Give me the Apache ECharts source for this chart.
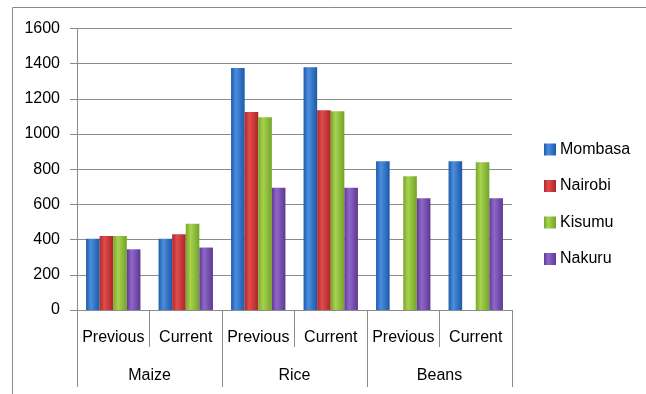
<!DOCTYPE html>
<html>
<head>
<meta charset="utf-8">
<script src="https://cdn.jsdelivr.net/npm/echarts@6/dist/echarts.min.js"></script>
<style>
  html, body { margin: 0; padding: 0; background: #fff; }
  #chart { width: 646px; height: 394px; }
</style>
</head>
<body>
<div id="chart"></div>
<script>
// Periods shown under each crop, and the crop groups below them
const periods = ['Previous', 'Current', 'Previous', 'Current', 'Previous', 'Current'];
const crops = ['Maize', 'Rice', 'Beans'];
const towns = ['Mombasa', 'Nairobi', 'Kisumu', 'Nakuru'];

// Prices per town, one value per crop/period column ('-' = no data)
const mombasa = [405, 405, 1375, 1380, 845, 845];
const nairobi = [420, 430, 1125, 1135, '-', '-'];
const kisumu  = [420, 490, 1095, 1130, 760, 840];
const nakuru  = [345, 355, 695, 695, 635, 635];

const yTicks = { min: 0, max: 1600, step: 200 };

const palette = [
  ['#1f5aa8', '#4a8ee0', '#1d58a6'],
  ['#b0282a', '#e04c4c', '#ad2527'],
  ['#76a82a', '#a8d250', '#72a427'],
  ['#603a96', '#9067c8', '#5d3893']
];

function barFill(c) {
  return new echarts.graphic.LinearGradient(0, 0, 1, 0, [
    { offset: 0, color: c[0] },
    { offset: 0.35, color: c[1] },
    { offset: 1, color: c[2] }
  ]);
}

const values = [mombasa, nairobi, kisumu, nakuru];
const font = '"Liberation Sans", Arial, sans-serif';
const gray = '#8a8a8a';

const chart = echarts.init(document.getElementById('chart'), null, { renderer: 'canvas' });

chart.setOption({
  animation: false,
  backgroundColor: '#fff',
  textStyle: { fontFamily: font },
  grid: { left: 77, right: 134, top: 28.5, bottom: 84 },
  legend: {
    orient: 'vertical',
    left: 539,
    top: 136,
    itemWidth: 12,
    itemHeight: 12,
    itemGap: 19.5,
    icon: 'rect',
    textStyle: { fontFamily: font, fontSize: 16, color: '#000', lineHeight: 17, padding: [0, 0, 0, -1] },
    data: towns
  },
  xAxis: [
    {
      type: 'category',
      data: periods,
      position: 'bottom',
      axisLine: { show: true, lineStyle: { color: gray, width: 1 } },
      axisTick: { show: true, length: 37, lineStyle: { color: gray } },
      axisLabel: { fontFamily: font, fontSize: 16, color: '#000', margin: 20, interval: 0 },
      splitLine: { show: false }
    },
    {
      type: 'category',
      data: crops,
      position: 'bottom',
      offset: 37,
      axisLine: { show: false },
      axisTick: { show: true, length: 40, lineStyle: { color: gray } },
      axisLabel: { fontFamily: font, fontSize: 16, color: '#000', margin: 21, interval: 0 },
      splitLine: { show: false }
    }
  ],
  yAxis: {
    type: 'value',
    min: yTicks.min,
    max: yTicks.max,
    interval: yTicks.step,
    axisLine: { show: true, lineStyle: { color: gray } },
    axisTick: { show: true, length: 7, lineStyle: { color: gray } },
    axisLabel: { fontFamily: font, fontSize: 16, color: '#000', margin: 17, formatter: v => String(v) },
    splitLine: { show: true, lineStyle: { color: gray, width: 1 } }
  },
  series: towns.map((name, i) => ({
    name,
    type: 'bar',
    xAxisIndex: 0,
    data: values[i],
    barGap: '0%',
    barCategoryGap: '25%',
    color: palette[i][1],
    itemStyle: { color: barFill(palette[i]) }
  })),
  graphic: [
    {
      type: 'polyline',
      shape: { points: [[12.5, 394], [12.5, 7.5], [646, 7.5]] },
      style: { stroke: '#8a8a8a', lineWidth: 1, fill: null },
      silent: true
    }
  ]
});
</script>
</body>
</html>
